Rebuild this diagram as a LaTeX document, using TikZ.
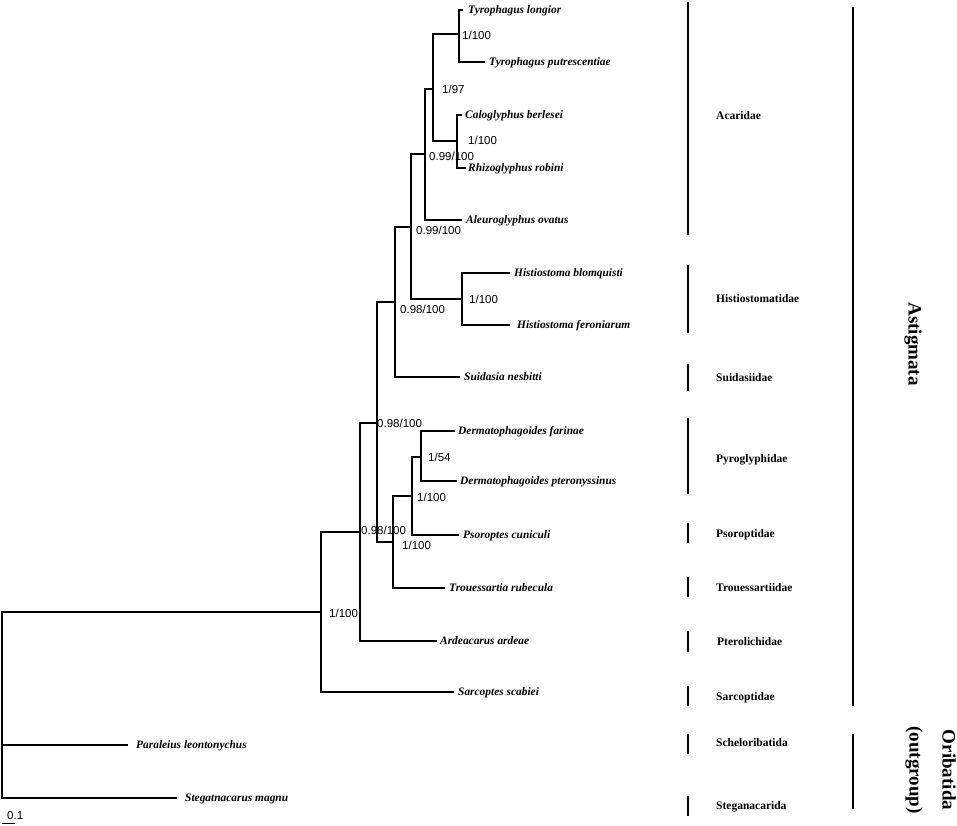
\documentclass[tikz,border=0pt]{standalone}
\usepackage{fontspec}
\setmainfont{Liberation Serif}
\newfontfamily\supfont{Liberation Sans}
\begin{document}
\begin{tikzpicture}[x=1pt,y=-1pt,
  branch/.style={line width=1.4pt},
  species/.style={anchor=base west,inner sep=0pt,font=\fontsize{11.4}{13}\selectfont\bfseries\itshape},
  support/.style={anchor=base west,inner sep=0pt,font=\supfont\fontsize{11.5}{13}\selectfont},
  family/.style={anchor=base west,inner sep=0pt,font=\fontsize{11.5}{13}\selectfont\bfseries},
  bar/.style={line width=1.8pt},
  clade/.style={rotate=-90,inner sep=0pt,align=center,font=\fontsize{19}{33}\selectfont\bfseries}]
\useasboundingbox (0,0) rectangle (957,825);
% internal nodes
\coordinate (root) at (2,745);
\coordinate (nA) at (321,612);
\coordinate (nB) at (360,532);
\coordinate (nC) at (377,423);
\coordinate (nD) at (395,302);
\coordinate (nE) at (411,227);
\coordinate (nF) at (425,154);
\coordinate (nG) at (433,89);
\coordinate (nTyr) at (459,34);
\coordinate (nCal) at (457,141);
\coordinate (nHis) at (462,299);
\coordinate (nPs) at (393,542);
\coordinate (nPy) at (412,496);
\coordinate (nDer) at (421,457);
% tips
\coordinate (tLon) at (463,10);
\coordinate (tPut) at (485,62);
\coordinate (tCal) at (462,115);
\coordinate (tRhi) at (466,168);
\coordinate (tAle) at (462,220);
\coordinate (tBlo) at (510,273);
\coordinate (tFer) at (510,325);
\coordinate (tSui) at (460,377);
\coordinate (tFar) at (455,431);
\coordinate (tPte) at (457,481);
\coordinate (tPso) at (459,535);
\coordinate (tTro) at (445,588);
\coordinate (tArd) at (437,641);
\coordinate (tSar) at (454,692);
\coordinate (tPar) at (128,745);
\coordinate (tSte) at (177,798);
% branches
\draw[branch] (root) |- (nA);
\draw[branch] (root) |- (tPar);
\draw[branch] (root) |- (tSte);
\draw[branch] (nA) |- (nB);
\draw[branch] (nA) |- (tSar);
\draw[branch] (nB) |- (nC);
\draw[branch] (nB) |- (tArd);
\draw[branch] (nC) |- (nD);
\draw[branch] (nC) |- (nPs);
\draw[branch] (nD) |- (nE);
\draw[branch] (nD) |- (tSui);
\draw[branch] (nE) |- (nF);
\draw[branch] (nE) |- (nHis);
\draw[branch] (nF) |- (nG);
\draw[branch] (nF) |- (tAle);
\draw[branch] (nG) |- (nTyr);
\draw[branch] (nG) |- (nCal);
\draw[branch] (nTyr) |- (tLon);
\draw[branch] (nTyr) |- (tPut);
\draw[branch] (nCal) |- (tCal);
\draw[branch] (nCal) |- (tRhi);
\draw[branch] (nHis) |- (tBlo);
\draw[branch] (nHis) |- (tFer);
\draw[branch] (nPs) |- (nPy);
\draw[branch] (nPs) |- (tTro);
\draw[branch] (nPy) |- (nDer);
\draw[branch] (nPy) |- (tPso);
\draw[branch] (nDer) |- (tFar);
\draw[branch] (nDer) |- (tPte);
% species labels
\node[species] (lLon) at (468,13.5) {Tyrophagus longior};
\node[species] (lPut) at (489,65.5) {Tyrophagus putrescentiae};
\node[species] (lCal) at (465,118.5) {Caloglyphus berlesei};
\node[species] (lRhi) at (468,171.5) {Rhizoglyphus robini};
\node[species] (lAle) at (466,223.5) {Aleuroglyphus ovatus};
\node[species] (lBlo) at (514,276.5) {Histiostoma blomquisti};
\node[species] (lFer) at (517,328.5) {Histiostoma feroniarum};
\node[species] (lSui) at (464,380.5) {Suidasia nesbitti};
\node[species] (lFar) at (458,434.5) {Dermatophagoides farinae};
\node[species] (lPte) at (460,484.5) {Dermatophagoides pteronyssinus};
\node[species] (lPso) at (463,538.5) {Psoroptes cuniculi};
\node[species] (lTro) at (449,591.5) {Trouessartia rubecula};
\node[species] (lArd) at (440,644.5) {Ardeacarus ardeae};
\node[species] (lSar) at (458,695.5) {Sarcoptes scabiei};
\node[species] (lPar) at (136,748.5) {Paraleius leontonychus};
\node[species] (lSte) at (185,801.5) {Stegatnacarus magnu};
% support values
\node[support] (sTyr) at (462,39.3) {1/100};
\node[support] (sCal) at (468,144) {1/100};
\node[support] (sG) at (442,93) {1/97};
\node[support] (sF) at (429,160) {0.99/100};
\node[support] (sE) at (416,234) {0.99/100};
\node[support] (sHis) at (469,303) {1/100};
\node[support] (sD) at (400,313) {0.98/100};
\node[support] (sC) at (377,427) {0.98/100};
\node[support] (sDer) at (428,461.5) {1/54};
\node[support] (sPy) at (417,501.5) {1/100};
\node[support] (sB) at (361,534.5) {0.98/100};
\node[support] (sPs) at (402,549) {1/100};
\node[support] (sA) at (329,617) {1/100};
% family bars
\draw[bar] (688,2) -- (688,235);
\draw[bar] (688,265) -- (688,333);
\draw[bar] (688,364) -- (688,391);
\draw[bar] (688,418) -- (688,494);
\draw[bar] (688,523) -- (688,543);
\draw[bar] (688,577) -- (688,597);
\draw[bar] (688,631) -- (688,652);
\draw[bar] (688,686) -- (688,706);
\draw[bar] (688,734) -- (688,754);
\draw[bar] (688,796) -- (688,816);
% family labels
\node[family] (fAca) at (716,119) {Acaridae};
\node[family] (fHis) at (716,302.5) {Histiostomatidae};
\node[family] (fSui) at (716,381) {Suidasiidae};
\node[family] (fPyr) at (716,462) {Pyroglyphidae};
\node[family] (fPso) at (716,537.5) {Psoroptidae};
\node[family] (fTro) at (716,591) {Trouessartiidae};
\node[family] (fPte) at (717,645.5) {Pterolichidae};
\node[family] (fSar) at (716,700) {Sarcoptidae};
\node[family] (fSch) at (716,746.5) {Scheloribatida};
\node[family] (fSte) at (716,809.5) {Steganacarida};
% clade bars and labels
\draw[bar] (853,7) -- (853,706);
\draw[bar] (853,734) -- (853,809);
\node[clade] (cAst) at (913,344) {Astigmata};
\node[clade] (cOri) at (930.5,770) {Oribatida\\(outgroup)};
% scale bar
\draw[line width=1.8pt] (2,823.5) -- (15,823.5);
\node[support] (scale) at (7,819.3) {0.1};
\end{tikzpicture}
\end{document}
